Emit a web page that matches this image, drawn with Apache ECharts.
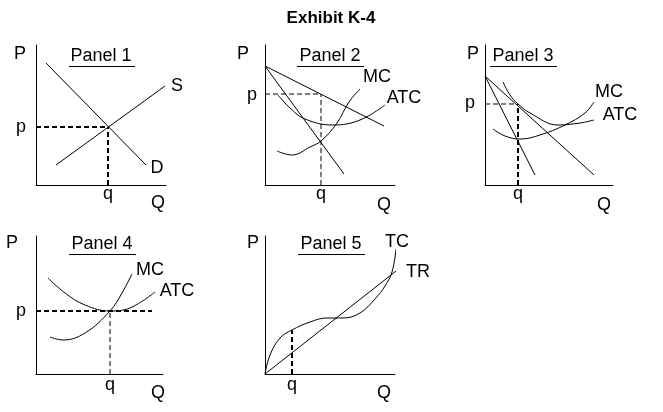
<!DOCTYPE html>
<html>
<head>
<meta charset="utf-8">
<script src="https://cdn.jsdelivr.net/npm/echarts@6/dist/echarts.min.js"></script>
<style>html,body{margin:0;padding:0;background:#fff}#c{width:663px;height:412px}</style>
</head>
<body>
<div id="c"></div>
<script>
// panel 1
const p1Demand = [[10,122],[110,20]];
const p1Supply = [[20,20],[129,99]];
const p1P = [[0,58],[72,58]];
const p1Q = [[72,0],[72,58]];
// panel 2
const p2Demand = [[0,119],[119,59]];
const p2MR = [[0,119],[79,11]];
const p2MC = [[12,34],[27,30],[45,38],[56,44],[72,62],[84,83],[95,96]];
const p2ATC = [[13,90],[25,77],[40,66],[68,60],[95,65],[120,80]];
const p2P = [[0,91],[56,91]];
const p2Q = [[56,0],[56,91]];
// panel 3
const p3Demand = [[0,109],[109,10]];
const p3MR = [[0,109],[50,10]];
const p3MC = [[8,56],[20,49],[35,46],[55,50],[80,60],[100,72],[109,83]];
const p3ATC = [[18,103],[25,90],[33,81],[45,72],[73,60],[95,62],[109,65]];
const p3P = [[0,81],[33,81]];
const p3Q = [[33,0],[33,81]];
// panel 4
const p4ATC = [[12,96],[29,81],[49,69],[74,63],[94,66],[119,82]];
const p4MC = [[14,37],[27,34],[49,41],[74,63],[86,81],[96,100]];
const p4P = [[0,63],[116,63]];
const p4Q = [[74,0],[74,63]];
// panel 5
const p5TR = [[0,0],[140,110]];
const p5TC = [[0,0],[5,19],[15,36],[27,44],[45,52],[62,56],[78,56],[95,61],[110,75],[120,88],[127,102],[131,125]];
const p5Q = [[27,0],[27,44]];

const panels = [
  {left:36, top:45, w:130, h:140},
  {left:265, top:45, w:130, h:140},
  {left:485, top:45, w:128, h:140},
  {left:36, top:236, w:127, h:138},
  {left:265, top:236, w:130, h:138}
];

const chart = echarts.init(document.getElementById('c'));
const axLine = {show:true, onZero:true, lineStyle:{color:'#000', width:1}};
const grid = panels.map(p => ({left:p.left, top:p.top, width:p.w, height:p.h}));
const xAxis = panels.map((p,i) => ({type:'value', gridIndex:i, min:0, max:p.w, axisLine:axLine, axisTick:{show:false}, axisLabel:{show:false}, splitLine:{show:false}}));
const yAxis = panels.map((p,i) => ({type:'value', gridIndex:i, min:0, max:p.h, axisLine:axLine, axisTick:{show:false}, axisLabel:{show:false}, splitLine:{show:false}}));

function line(i, data, smooth, dashed, width) {
  return {type:'line', xAxisIndex:i, yAxisIndex:i, data:data, smooth:smooth ? 0.4 : false,
    symbol:'none', silent:true,
    lineStyle:{color:'#000', width:width || 1, type: dashed ? [5,3] : 'solid'}};
}

const series = [
  line(0,p1Demand), line(0,p1Supply), line(0,p1P,false,true,2), line(0,p1Q,false,true,2),
  line(1,p2Demand), line(1,p2MR), line(1,p2MC,true), line(1,p2ATC,true), line(1,p2P,false,true), line(1,p2Q,false,true),
  line(2,p3Demand), line(2,p3MR), line(2,p3MC,true), line(2,p3ATC,true), line(2,p3P,false,true), line(2,p3Q,false,true,2),
  line(3,p4ATC,true), line(3,p4MC,true), line(3,p4P,false,true,2), line(3,p4Q,false,true),
  line(4,p5TR), line(4,p5TC,true), line(4,p5Q,false,true,2)
];

const font = {fontFamily:'Liberation Sans, Arial, sans-serif', fontSize:18, fill:'#000'};
function txt(x, y, s, extra) {
  return {type:'text', x:x, y:y, style:Object.assign({text:s, textAlign:'center', textVerticalAlign:'middle'}, font, extra || {})};
}
function uline(x1, x2, y) {
  return {type:'line', shape:{x1:x1, y1:y, x2:x2, y2:y}, style:{stroke:'#000', lineWidth:1}};
}
const labels = [
  txt(331,18,'Exhibit K-4',{fontWeight:'bold', fontSize:17}),
  txt(20,54,'P'), txt(101,56,'Panel 1'), uline(69,135,66.5), txt(177,86,'S'), txt(157,168,'D'), txt(21,127,'p'), txt(108,194,'q'), txt(158,203,'Q'),
  txt(243,54,'P'), txt(330,56,'Panel 2'), uline(297,364,66.5), txt(377,77,'MC'), txt(404,98,'ATC'), txt(252,95,'p'), txt(321,194,'q'), txt(384,205,'Q'),
  txt(473,54,'P'), txt(523,56,'Panel 3'), uline(490,557,66.5), txt(609,92,'MC'), txt(620,115,'ATC'), txt(470,103,'p'), txt(518,194,'q'), txt(604,205,'Q'),
  txt(12,243,'P'), txt(102,244,'Panel 4'), uline(69,136,254.5), txt(150,270,'MC'), txt(177,291,'ATC'), txt(21,311,'p'), txt(110,385,'q'), txt(158,393,'Q'),
  txt(253,243,'P'), txt(331,244,'Panel 5'), uline(298,365,254.5), txt(397,242,'TC'), txt(418,272,'TR'), txt(292,385,'q'), txt(384,393,'Q')
];

chart.setOption({
  animation:false,
  backgroundColor:'#fff',
  grid:grid, xAxis:xAxis, yAxis:yAxis, series:series,
  graphic:labels
});
</script>
</body>
</html>
